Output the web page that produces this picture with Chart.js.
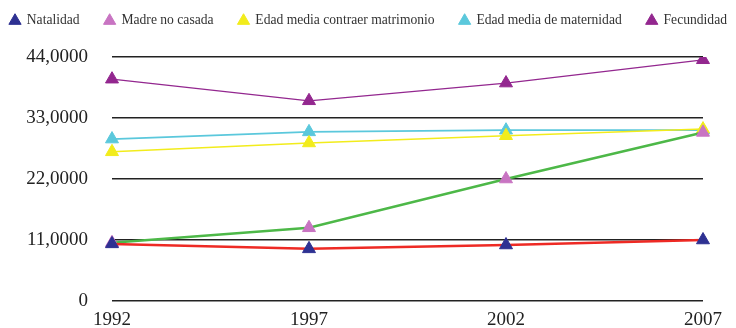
<!DOCTYPE html>
<html>
<head>
<meta charset="utf-8">
<script src="https://cdn.jsdelivr.net/npm/chart.js@4/dist/chart.umd.min.js"></script>
<style>
html,body{margin:0;padding:0;background:#fff;}
#wrap{width:736px;height:328px;}
</style>
</head>
<body>
<div id="wrap"><canvas id="c" width="736" height="328"></canvas></div>
<script>
const categories = ['1992', '1997', '2002', '2007'];
const natalidad = [10.3, 9.4, 10.1, 11.0];
const madreNoCasada = [10.5, 13.2, 22.0, 30.4];
const edadMatrimonio = [26.9, 28.5, 29.8, 31.0];
const edadMaternidad = [29.2, 30.5, 30.8, 30.8];
const fecundidad = [40.0, 36.1, 39.3, 43.5];
const yTicks = [0, 11, 22, 33, 44];

const serif = "'Liberation Serif', 'Times New Roman', serif";

function ds(label, data, lineColor, pointColor, width) {
  return {
    label: label,
    data: data,
    borderColor: lineColor,
    backgroundColor: pointColor,
    borderWidth: width,
    pointStyle: 'triangle',
    pointRadius: 7.5,
    pointBackgroundColor: pointColor,
    pointBorderColor: pointColor,
    pointBorderWidth: 1,
    tension: 0,
    fill: false
  };
}

// Keep the legend on one row (it runs past the right edge, as in the original)
const legendTweak = {
  id: 'legendTweak',
  beforeInit(chart) {
    const lg = chart.legend;
    const origUpdate = lg.update;
    lg.update = function(mw, mh, m) { origUpdate.call(this, 900, mh, m); };
    const origFit = lg.fit;
    lg.fit = function() { origFit.call(this); this.height = 68; };
    const origDraw = lg.draw;
    lg.draw = function() {
      const l = this.left, r = this.right;
      this.left = -15; this.right = 900;
      origDraw.call(this);
      this.left = l; this.right = r;
    };
  }
};

new Chart(document.getElementById('c'), {
  type: 'line',
  data: {
    labels: categories,
    datasets: [
      ds('Natalidad', natalidad, '#ee2a24', '#2e3192', 2.5),
      ds('Madre no casada', madreNoCasada, '#4db848', '#c874c2', 2.5),
      ds('Edad media contraer matrimonio', edadMatrimonio, '#f2ec1c', '#f2ec1c', 1.5),
      ds('Edad media de maternidad', edadMaternidad, '#5bc8dc', '#5bc8dc', 1.8),
      ds('Fecundidad', fecundidad, '#93278f', '#93278f', 1.3)
    ]
  },
  plugins: [legendTweak],
  options: {
    responsive: false,
    animation: false,
    layout: { padding: { left: 0, right: 0, top: -11, bottom: 0 } },
    plugins: {
      legend: {
        position: 'top',
        align: 'start',
        labels: {
          usePointStyle: true,
          pointStyle: 'triangle',
          boxWidth: 10,
          boxHeight: 10,
          padding: 25,
          color: '#333',
          font: { family: serif, size: 13.6 }
        }
      },
      tooltip: { enabled: false }
    },
    scales: {
      x: {
        offset: false,
        afterFit: function(axis) { axis.height = 27; },
        grid: { display: false, drawTicks: false },
        border: { display: false },
        ticks: { color: '#222', font: { family: serif, size: 19 }, padding: 8, maxRotation: 0 }
      },
      y: {
        min: 0,
        max: 44,
        afterBuildTicks: function(axis) { axis.ticks = yTicks.map(v => ({ value: v })); },
        afterFit: function(axis) { axis.width = 112; axis.paddingTop = 11; axis.paddingBottom = 11; },
        grid: { color: '#222', lineWidth: 1.5, drawTicks: false },
        border: { display: false },
        ticks: {
          color: '#222',
          padding: 24,
          font: { family: serif, size: 19 },
          callback: function(v) { return v === 0 ? '0' : v + ',0000'; }
        }
      },
      yr: {
        position: 'right',
        min: 0,
        max: 44,
        afterFit: function(axis) { axis.width = 33; },
        grid: { display: false, drawTicks: false },
        border: { display: false },
        ticks: { display: false }
      }
    }
  }
});
</script>
</body>
</html>
